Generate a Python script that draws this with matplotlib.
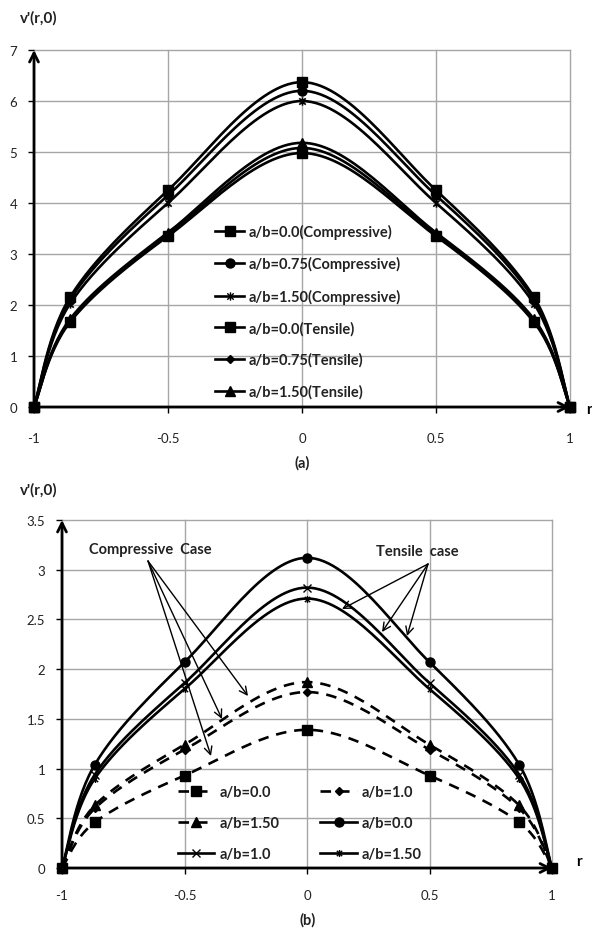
import numpy as np
import matplotlib
matplotlib.use("Agg")
import matplotlib.pyplot as plt
from matplotlib.path import Path
from matplotlib.lines import Line2D

plt.rcParams['font.family'] = ['Lato', 'DejaVu Sans']

# ---------------- data ----------------
r_pts = [-1.0, -0.866, -0.5, 0.0, 0.5, 0.866, 1.0]

# (a)
a_comp_00 = [0, 2.15, 4.25, 6.37, 4.25, 2.15, 0]
a_comp_075 = [0, 2.10, 4.15, 6.20, 4.15, 2.10, 0]
a_comp_150 = [0, 2.02, 4.00, 6.00, 4.00, 2.02, 0]
a_tens_00 = [0, 1.66, 3.35, 4.98, 3.35, 1.66, 0]
a_tens_075 = [0, 1.69, 3.38, 5.08, 3.38, 1.69, 0]
a_tens_150 = [0, 1.72, 3.42, 5.18, 3.42, 1.72, 0]
a_labels = ['a/b=0.0(Compressive)', 'a/b=0.75(Compressive)', 'a/b=1.50(Compressive)',
            'a/b=0.0(Tensile)', 'a/b=0.75(Tensile)', 'a/b=1.50(Tensile)']

# (b)
b_comp_00 = [0, 0.46, 0.93, 1.39, 0.93, 0.46, 0]
b_comp_10 = [0, 0.60, 1.19, 1.77, 1.19, 0.60, 0]
b_comp_150 = [0, 0.63, 1.24, 1.87, 1.24, 0.63, 0]
b_tens_00 = [0, 1.04, 2.07, 3.12, 2.07, 1.04, 0]
b_tens_10 = [0, 0.94, 1.86, 2.82, 1.86, 0.94, 0]
b_tens_150 = [0, 0.90, 1.80, 2.71, 1.80, 0.90, 0]
b_labels = ['a/b=0.0', 'a/b=1.0', 'a/b=1.50', 'a/b=0.0', 'a/b=1.0', 'a/b=1.50']

x_ticks = [-1, -0.5, 0, 0.5, 1]
x_ticklabels = ['-1', '-0.5', '0', '0.5', '1']

# ---------------- helpers ----------------
ast = Path([(-1, -1), (1, 1), (-1, 1), (1, -1), (0, -1.3), (0, 1.3)],
           [Path.MOVETO, Path.LINETO, Path.MOVETO, Path.LINETO, Path.MOVETO, Path.LINETO])


def smooth(x, y, n=30):
    """Excel-like smoothed line (Catmull-Rom Bezier) through the points."""
    x = np.asarray(x, float); y = np.asarray(y, float)
    P = np.column_stack([x, y])
    out = []
    for i in range(len(P) - 1):
        p0 = P[i - 1] if i > 0 else P[i]
        p1 = P[i]; p2 = P[i + 1]
        p3 = P[i + 2] if i + 2 < len(P) else P[i + 1]
        c1 = p1 + (p2 - p0) / 6.0
        c2 = p2 - (p3 - p1) / 6.0
        t = np.linspace(0, 1, n)[:, None]
        seg = ((1 - t) ** 3) * p1 + 3 * ((1 - t) ** 2) * t * c1 + 3 * (1 - t) * t ** 2 * c2 + t ** 3 * p2
        out.append(seg if i == 0 else seg[1:])
    s = np.vstack(out)
    return s[:, 0], s[:, 1]


def series(ax, x, y, marker, ms, ls='-', lw=1.9, mew=1.0):
    sx, sy = smooth(x, y)
    ax.plot(sx, sy, color='black', lw=lw, ls=ls, zorder=3, clip_on=False)
    ax.plot(x, y, ls='none', marker=marker, ms=ms, color='black', mfc='black', mec='black',
            mew=mew, zorder=4, clip_on=False)


def style_axes(ax, ymax, ystep):
    ax.set_xlim(-1, 1)
    ax.set_ylim(0, ymax)
    ax.set_xticks(x_ticks)
    ax.set_xticklabels(x_ticklabels)
    yt = np.arange(0, ymax + 1e-9, ystep)
    ax.set_yticks(yt)
    ax.set_yticklabels([('%g' % v) for v in yt])
    for s in ax.spines.values():
        s.set_visible(False)
    ax.grid(True, color='#a6a6a6', lw=1.0, zorder=0)
    ax.tick_params(axis='both', labelsize=9.5, colors='black', length=4, width=1, labelcolor='#222222')
    ax.tick_params(axis='x', pad=14)
    ax.tick_params(axis='y', pad=8)
    for gl in ax.get_xgridlines() + ax.get_ygridlines():
        gl.set_clip_on(False)
    # axis arrows
    ax.annotate('', xy=(0, 1.0), xytext=(0, 0), xycoords='axes fraction',
                arrowprops=dict(arrowstyle='->', lw=2.0, color='black', shrinkA=0, shrinkB=0,
                                mutation_scale=16), zorder=5)
    ax.annotate('', xy=(1.0, 0), xytext=(0, 0), xycoords='axes fraction',
                arrowprops=dict(arrowstyle='->', lw=2.0, color='black', shrinkA=0, shrinkB=0,
                                mutation_scale=16), zorder=5)


W, H = 592, 937
fig = plt.figure(figsize=(W / 100, H / 100), dpi=100)

# ---------------- (a) ----------------
ax1 = fig.add_axes([34 / W, 1 - 408 / H, (570 - 34) / W, (408 - 51) / H])
style_axes(ax1, 7, 1)
series(ax1, r_pts, a_comp_00, 's', 7)
series(ax1, r_pts, a_comp_075, 'o', 6.5)
series(ax1, r_pts, a_comp_150, ast, 6, mew=1.2)
series(ax1, r_pts, a_tens_00, 's', 7)
series(ax1, r_pts, a_tens_075, 'D', 4.5)
series(ax1, r_pts, a_tens_150, '^', 6.5)

mk_a = ['s', 'o', ast, 's', 'D', '^']
ms_a = [7, 6.5, 6, 7, 4.5, 6.5]
h_a = [Line2D([], [], color='black', lw=1.9, marker=m, ms=s, mfc='black', mec='black')
       for m, s in zip(mk_a, ms_a)]
leg1 = ax1.legend(h_a, a_labels, loc='upper left', bbox_to_anchor=((215 - 34) / 536, (408 - 225) / 357),
                  frameon=False, prop=dict(size=10.5, weight='bold'), handlelength=2.0,
                  handletextpad=0.3, labelspacing=1.18, borderpad=0, borderaxespad=0)
for t in leg1.get_texts():
    t.set_color('#222222')

fig.text(20 / W, 1 - 18 / H, "v'(r,0)", fontsize=11, fontweight='bold', ha='left', va='center',
         color='#222222')
fig.text(586 / W, 1 - 410 / H, "r", fontsize=11, fontweight='bold', ha='left', va='center')
fig.text(302 / W, 1 - 463 / H, "(a)", fontsize=10.5, fontweight='bold', ha='center', va='center',
         color='#222222')

# ---------------- (b) ----------------
ax2 = fig.add_axes([62 / W, 1 - 869 / H, (552 - 62) / W, (869 - 521) / H])
style_axes(ax2, 3.5, 0.5)
ax2.tick_params(axis='x', pad=11)
series(ax2, r_pts, b_comp_00, 's', 7, ls=(0, (4, 3)))
series(ax2, r_pts, b_comp_10, 'D', 4.5, ls=(0, (4, 3)))
series(ax2, r_pts, b_comp_150, '^', 6.5, ls=(0, (4, 3)))
series(ax2, r_pts, b_tens_00, 'o', 6.5)
series(ax2, r_pts, b_tens_10, 'x', 6, mew=1.0)
series(ax2, r_pts, b_tens_150, ast, 5, mew=1.0)

# legend, column-major order so rows read as in the reference
sty_b = [('s', 7, (0, (4, 3))), ('D', 4.5, (0, (4, 3))), ('^', 6.5, (0, (4, 3))),
         ('o', 6.5, '-'), ('x', 6, '-'), (ast, 5, '-')]
h_b = [Line2D([], [], color='black', lw=1.9, ls=ls, marker=m, ms=s, mfc='black', mec='black')
       for m, s, ls in sty_b]
order = [0, 2, 4, 1, 3, 5]
leg2 = ax2.legend([h_b[i] for i in order], [b_labels[i] for i in order], ncol=2,
                  loc='upper left', bbox_to_anchor=((178 - 62) / 490, (869 - 786) / 348),
                  frameon=False, prop=dict(size=10.5, weight='bold'), handlelength=2.5,
                  handletextpad=0.35, labelspacing=1.17, columnspacing=2.8, borderpad=0,
                  borderaxespad=0)
for t in leg2.get_texts():
    t.set_color('#222222')

# annotations
ap = dict(arrowstyle='->', lw=1.0, color='black', shrinkA=0, shrinkB=0, mutation_scale=14)
fig.text(150 / W, 1 - 550 / H, "Compressive  Case", fontsize=10.5, fontweight='bold', ha='center',
         va='center', color='#222222')
for tx, ty in [(248, 697), (222, 720), (211, 757)]:
    fig.add_artist(matplotlib.patches.FancyArrowPatch((148 / W, 1 - 562 / H), (tx / W, 1 - ty / H),
                                                      transform=fig.transFigure, **ap))
fig.text(417 / W, 1 - 552 / H, "Tensile  case", fontsize=10.5, fontweight='bold', ha='center',
         va='center', color='#222222')
for tx, ty in [(342, 610), (382, 633), (407, 637)]:
    fig.add_artist(matplotlib.patches.FancyArrowPatch((428 / W, 1 - 565 / H), (tx / W, 1 - ty / H),
                                                      transform=fig.transFigure, **ap))

fig.text(20 / W, 1 - 490 / H, "v'(r,0)", fontsize=11, fontweight='bold', ha='left', va='center',
         color='#222222')
fig.text(576 / W, 1 - 862 / H, "r", fontsize=11, fontweight='bold', ha='left', va='center')
fig.text(308 / W, 1 - 920 / H, "(b)", fontsize=10.5, fontweight='bold', ha='center', va='center',
         color='#222222')

fig.savefig('out.png', dpi=100)
